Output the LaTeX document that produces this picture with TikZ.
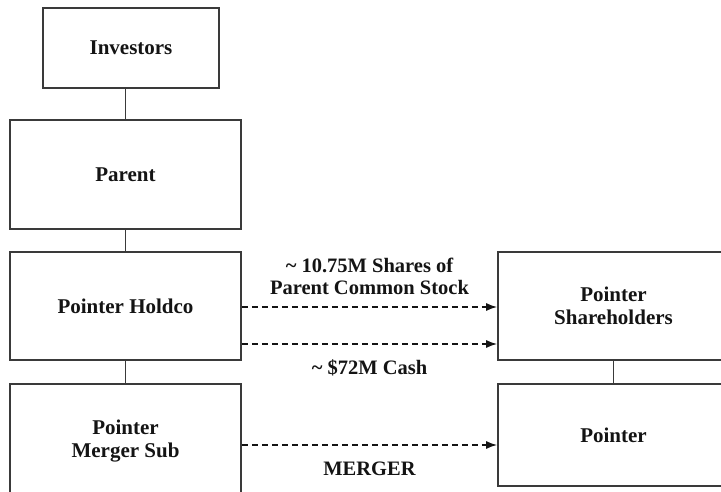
\documentclass[tikz,border=0pt]{standalone}
\usepackage{fontspec}
\setmainfont{Liberation Serif}[BoldFont={Liberation Serif Bold}]
\usetikzlibrary{arrows.meta}
\definecolor{edge}{HTML}{3A3A3A}
\definecolor{ink}{HTML}{141414}
\begin{document}
\begin{tikzpicture}[x=1pt,y=-1pt,
  box/.style={draw=edge, line width=1.6pt, fill=white, inner sep=0pt, align=center,
    text=ink, font=\fontsize{21}{23}\selectfont\bfseries},
  link/.style={draw=edge, line width=1.6pt},
  flow/.style={draw=ink, line width=1.6pt, dash pattern=on 6pt off 4pt,
    -{Latex[length=11pt,width=8pt]}},
  lbl/.style={text=ink, align=center, font=\fontsize{20.5}{22}\selectfont\bfseries}]
\useasboundingbox (0,0) rectangle (721,492);
\fill[white] (0,0) rectangle (721,492);
\clip (0,0) rectangle (721,492);
\node[box, minimum width=176pt, minimum height=80pt] (inv) at (131,48) {Investors};
\node[box, minimum width=231pt, minimum height=109pt] (par) at (125.5,174.5) {Parent};
\node[box, minimum width=231pt, minimum height=108pt] (hold) at (125.5,306) {Pointer Holdco};
\node[box, minimum width=231pt, minimum height=114pt] (msub) at (125.5,441) {Pointer\\Merger Sub};
\node[box, minimum width=231pt, minimum height=108pt] (sh) at (613.5,306) {Pointer\\Shareholders};
\node[box, minimum width=231pt, minimum height=102pt] (ptr) at (613.5,435) {Pointer};
\draw[link] (par.north |- inv.south) -- (par.north);
\draw[link] (par.south) -- (hold.north);
\draw[link] (hold.south) -- (msub.north);
\draw[link] (sh.south) -- (ptr.north);
\draw[flow] ([yshift=-1pt]hold.east) -- ([yshift=-1pt]sh.west)
  node[lbl, midway, yshift=31pt] {\textasciitilde{} 10.75M Shares of\\Parent Common Stock};
\draw[flow] ([yshift=-38pt]hold.east) -- ([yshift=-38pt]sh.west)
  node[lbl, midway, yshift=-24pt] {\textasciitilde{} \$72M Cash};
\draw[flow] ([yshift=-4pt]msub.east) -- ([yshift=-4pt]msub.east -| ptr.west)
  node[lbl, midway, yshift=-24pt] {MERGER};
\end{tikzpicture}
\end{document}
